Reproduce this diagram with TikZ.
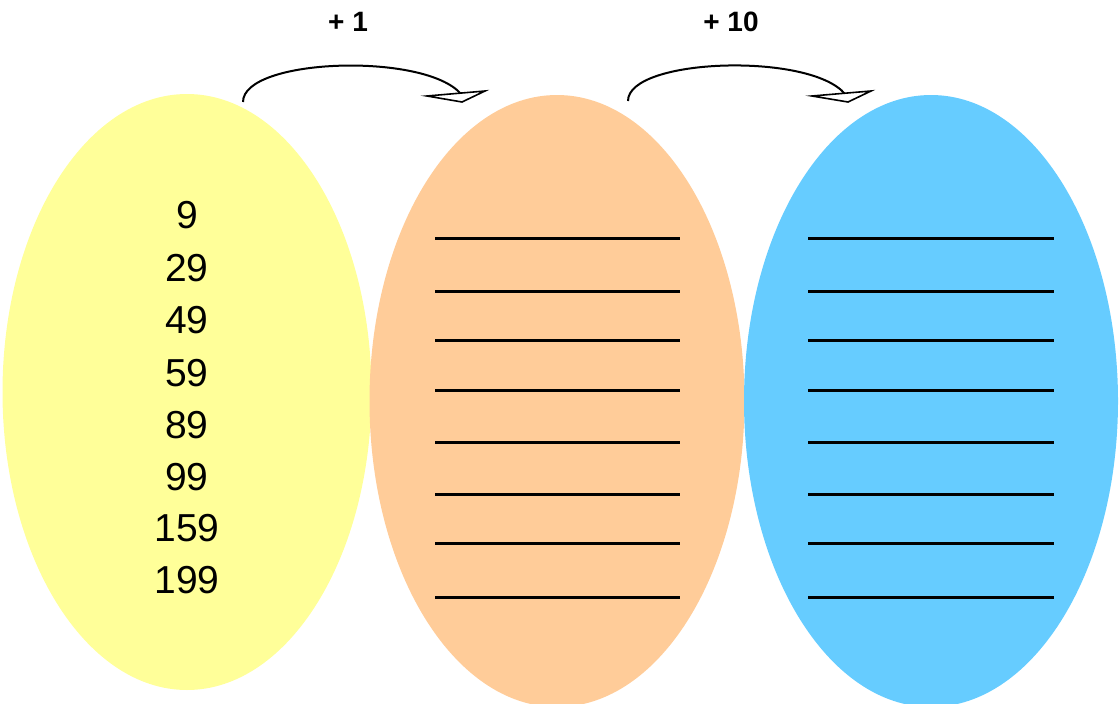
\documentclass[tikz,border=0pt]{standalone}
\usepackage{fontspec}
\setmainfont{Liberation Sans}
\usetikzlibrary{shapes.geometric}
\definecolor{cyel}{HTML}{FFFF99}
\definecolor{corg}{HTML}{FFCC99}
\definecolor{cblu}{HTML}{66CCFF}
\begin{document}
\begin{tikzpicture}[x=1pt,y=-1pt,
  oval/.style={ellipse, draw=none, inner sep=0pt},
  num/.style={font=\fontsize{39}{40}\selectfont, anchor=center},
  lbl/.style={font=\bfseries\fontsize{28}{30}\selectfont},
  blank/.style={line width=3pt},
  curve/.style={line width=2pt},
  head/.style={line width=1.6pt, fill=white, line join=miter}]
\useasboundingbox (0,0) rectangle (1119,704);
\clip (0,0) rectangle (1119,704);
\node[oval, fill=cyel, minimum width=369pt, minimum height=596pt] (A) at (187,392) {};
\node[oval, fill=corg, minimum width=375pt, minimum height=612pt] (B) at (557,401) {};
\node[oval, fill=cblu, minimum width=374pt, minimum height=612pt] (C) at (931,401) {};
\foreach \v/\y [count=\i] in {9/215,29/268,49/320,59/373,89/425,99/477,159/528,199/580}
  \node[num] (n\i) at (187,\y) {\v};
\foreach \y [count=\i] in {238,291,340,390,442,494,543,597}{
  \coordinate (bl\i) at (435,\y); \coordinate (br\i) at (680,\y);
  \draw[blank] (bl\i) -- (br\i);
  \coordinate (cl\i) at (808,\y); \coordinate (cr\i) at (1054,\y);
  \draw[blank] (cl\i) -- (cr\i);
}
\node[lbl] (l1) at (348,22) {+ 1};
\node[lbl] (l2) at (731,22) {+ 10};
\coordinate (s1) at (243,102); \coordinate (e1) at (461,94);
\coordinate (s2) at (628,101); \coordinate (e2) at (845,94);
\draw[curve] (s1) .. controls (243,58) and (425,52) .. (e1);
\draw[curve] (s2) .. controls (628,58) and (810,52) .. (e2);
\draw[head] (427,96) -- (485,91) -- (462,102) -- cycle;
\draw[head] (812,96) -- (871,91) -- (848,102) -- cycle;
\end{tikzpicture}
\end{document}
